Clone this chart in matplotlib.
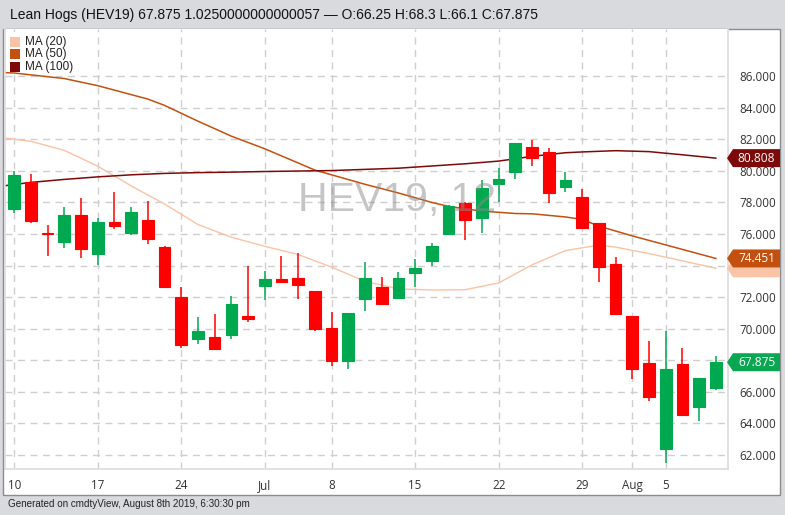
import matplotlib
matplotlib.use("Agg")
import matplotlib.pyplot as plt
from matplotlib.patches import Rectangle, Polygon

# ---------------- data ----------------
dates = ["06-10", "06-11", "06-12", "06-13", "06-14",
         "06-17", "06-18", "06-19", "06-20", "06-21",
         "06-24", "06-25", "06-26", "06-27", "06-28",
         "07-01", "07-02", "07-03", "07-05",
         "07-08", "07-09", "07-10", "07-11", "07-12",
         "07-15", "07-16", "07-17", "07-18", "07-19",
         "07-22", "07-23", "07-24", "07-25", "07-26",
         "07-29", "07-30", "07-31", "08-01", "08-02",
         "08-05", "08-06", "08-07", "08-08"]
opens = [77.61, 79.28, 76.09, 75.50, 77.21,
         74.76, 76.74, 76.04, 76.89, 75.18,
         72.03, 69.37, 69.48, 69.58, 70.81,
         72.71, 73.15, 73.21, 72.39,
         70.03, 67.96, 71.86, 72.67, 71.97,
         73.55, 74.29, 75.98, 77.95, 77.00,
         79.15, 79.93, 81.49, 81.18, 79.00,
         78.33, 76.72, 74.08, 70.81, 67.85,
         62.36, 67.74, 65.06, 66.25]
highs = [79.99, 79.80, 76.57, 77.73, 78.26,
         77.00, 78.64, 77.69, 78.11, 75.24,
         72.67, 70.72, 70.93, 72.07, 73.97,
         73.66, 74.61, 74.82, 72.39,
         71.08, 70.98, 74.21, 73.26, 73.57,
         74.40, 75.41, 77.84, 78.05, 79.42,
         80.20, 81.79, 81.96, 81.43, 79.91,
         78.85, 76.72, 74.52, 70.81, 69.24,
         69.88, 68.76, 66.90, 68.30]
lows = [77.31, 76.72, 74.63, 75.09, 74.46,
        74.04, 76.34, 75.94, 75.37, 72.62,
        68.76, 69.03, 68.65, 69.33, 70.45,
        71.82, 72.88, 71.88, 69.85,
        67.64, 67.43, 71.14, 71.52, 71.97,
        72.67, 73.97, 75.92, 75.62, 76.09,
        78.05, 79.47, 80.33, 77.94, 78.64,
        76.38, 72.98, 70.95, 66.79, 65.44,
        61.47, 64.47, 64.15, 66.10]
closes = [79.74, 76.85, 76.02, 77.21, 75.05,
          76.74, 76.53, 77.42, 75.66, 72.67,
          68.99, 69.88, 68.72, 71.57, 70.64,
          73.15, 72.98, 72.75, 69.98,
          67.96, 70.98, 73.21, 71.57, 73.21,
          73.87, 75.26, 77.78, 76.87, 78.90,
          79.47, 81.79, 80.80, 78.62, 79.42,
          76.38, 73.93, 70.95, 67.43, 65.65,
          67.43, 64.53, 66.86, 67.875]

# moving averages (day index, value)
ma20_idx = [-1, 1, 3, 5, 7, 9, 11, 13, 15, 17, 19, 21, 23, 25, 27, 29, 31, 33, 35, 36, 38, 40, 42]
ma20_val = [82.15, 81.87, 81.3, 80.3, 79.05, 77.9, 76.6, 75.8, 75.22, 74.7, 73.9, 73.0,
            72.52, 72.45, 72.47, 72.9, 74.05, 74.95, 75.3, 75.17, 74.76, 74.3, 73.83]
ma50_idx = [-1, 0, 3, 5, 8, 9, 11, 13, 15, 18, 21, 23, 25, 26, 28, 30, 31, 33, 34, 35, 37, 39, 42]
ma50_val = [86.25, 86.2, 85.85, 85.4, 84.55, 84.15, 83.15, 82.2, 81.4, 80.05, 79.15, 78.6,
            78.0, 77.75, 77.45, 77.3, 77.28, 77.08, 76.93, 76.5, 75.88, 75.31, 74.451]
ma100_idx = [-1, 1, 3, 5, 7, 9, 11, 13, 15, 19, 23, 27, 29, 31, 33, 34, 36, 38, 40, 42]
ma100_val = [79.0, 79.27, 79.46, 79.62, 79.75, 79.84, 79.89, 79.92, 79.96, 80.02, 80.17,
             80.45, 80.62, 80.92, 81.15, 81.2, 81.28, 81.22, 81.02, 80.808]

week_idx = [0, 5, 10, 15, 19, 24, 29, 34, 37, 39]
week_labels = ["10", "17", "24", "Jul", "8", "15", "22", "29", "Aug", "5"]
y_ticks = [62, 64, 66, 68, 70, 72, 74, 76, 78, 80, 82, 84, 86]
hidden_ticks = [68, 74]  # covered by the price tags in the original

title = "Lean Hogs (HEV19) 67.875 1.0250000000000057 \u2014 O:66.25 H:68.3 L:66.1 C:67.875"
footer = "Generated on cmdtyView, August 8th 2019, 6:30:30 pm"
watermark = "HEV19, 12"

last_labels = [(73.83, "", "#fcc4a6", "#fcc4a6"),
               (74.451, "74.451", "#c4500f", "white"),
               (80.808, "80.808", "#7c0a0a", "white"),
               (67.875, "67.875", "#0aa651", "white")]

# ---------------- style ----------------
GREEN = "#00a84f"
RED = "#ff0000"
C20, C50, C100 = "#fbc3a5", "#c4500f", "#7c0a0a"
FONT = ["Liberation Sans", "DejaVu Sans"]
TFONT = ["Open Sans", "DejaVu Sans"]

W, H = 785, 515
fig = plt.figure(figsize=(W / 100, H / 100), dpi=100, facecolor="#d8dadd")

# white panel
fig.add_artist(Rectangle((3 / W, (H - 495) / H), 777 / W, 466 / H, transform=fig.transFigure,
                         facecolor="white", edgecolor="#8c8c8c", lw=1, zorder=-5))

ax_l, ax_b, ax_w, ax_h = 5 / W, (H - 469) / H, 723 / W, 440 / H
ax = fig.add_axes([ax_l, ax_b, ax_w, ax_h])
ax.set_facecolor("white")
xmin, xmax = -0.55, 42.73
ymin, ymax = 61.11, 88.99
ax.set_xlim(xmin, xmax)
ax.set_ylim(ymin, ymax)

for s in ["left", "bottom", "right"]:
    ax.spines[s].set_color("#dcdcdc")
    ax.spines[s].set_linewidth(1.2)
ax.spines["top"].set_visible(False)

ax.set_xticks(week_idx)
ax.set_xticklabels(week_labels)
ax.set_yticks(y_ticks)
ax.set_yticklabels(["" if v in hidden_ticks else f"{v:.3f}" for v in y_ticks])
ax.yaxis.tick_right()
ax.tick_params(axis="both", length=0, labelsize=8.4, labelcolor="#333333")
ax.tick_params(axis="y", pad=8)
ax.tick_params(axis="x", pad=7)
for lab in ax.get_xticklabels() + ax.get_yticklabels():
    lab.set_family(TFONT)
ax.grid(True, color="#cfcfcf", lw=1, ls=(0, (5, 4)))
ax.set_axisbelow(True)

# moving averages
ax.plot(ma20_idx, ma20_val, color=C20, lw=1, zorder=2)
ax.plot(ma50_idx, ma50_val, color=C50, lw=1.1, zorder=2)
ax.plot(ma100_idx, ma100_val, color=C100, lw=1.1, zorder=2)

# candles
x = list(range(len(dates)))
cols = [GREEN if c >= o else RED for o, c in zip(opens, closes)]
ax.vlines(x, lows, highs, colors=cols, lw=1.1, zorder=3)
ax.bar(x, [abs(c - o) for o, c in zip(opens, closes)],
       bottom=[min(o, c) for o, c in zip(opens, closes)], width=0.7,
       color=cols, edgecolor=cols, lw=0.8, zorder=4)

# watermark
ax.text(0.5425, 0.6125, watermark, transform=ax.transAxes, ha="center", va="center",
        fontsize=29.5, color="#8c8c8c", alpha=0.5, family=FONT, zorder=6)

# title / legend / footer
fig.text(10 / W, 1 - 15 / H, title, ha="left", va="center", fontsize=10,
         color="#111111", family=FONT)
for k, (name, col) in enumerate([("MA (20)", C20), ("MA (50)", C50), ("MA (100)", C100)]):
    yc = 41.5 + k * 12.6
    fig.add_artist(Rectangle((10 / W, 1 - (yc + 5) / H), 10 / W, 10 / H,
                             transform=fig.transFigure, facecolor=col, edgecolor="none", zorder=5))
    fig.text(25 / W, 1 - yc / H, name, ha="left", va="center", fontsize=8.5,
             color="#222222", family=FONT, zorder=5)
fig.text(8 / W, 1 - 504 / H, footer, ha="left", va="center", fontsize=7.1,
         color="#222222", family=FONT)

# last-value price tags on right axis
for v, txt, col, tcol in last_labels:
    yf = ax_b + (v - ymin) / (ymax - ymin) * ax_h
    hh = 9 / H
    pts = [(727 / W, yf), (733 / W, yf + hh), (780 / W, yf + hh), (780 / W, yf - hh), (733 / W, yf - hh)]
    fig.add_artist(Polygon(pts, closed=True, transform=fig.transFigure,
                           facecolor=col, edgecolor="none", zorder=5))
    if txt:
        fig.text(756.5 / W, yf, txt, ha="center", va="center", fontsize=8.6,
                 color=tcol, family=TFONT, zorder=6)

fig.savefig("out.png", dpi=100, facecolor=fig.get_facecolor())
